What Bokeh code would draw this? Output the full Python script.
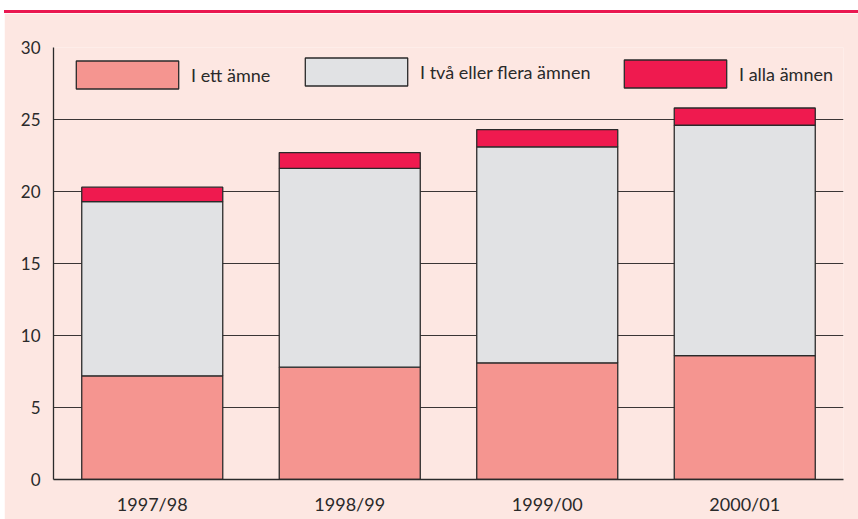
from bokeh.plotting import figure
from bokeh.models import (ColumnDataSource, Range1d, FactorRange, FixedTicker,
                          Legend, LegendItem, Div)
from bokeh.layouts import column
from bokeh.embed import file_html
from bokeh.resources import INLINE

# ---- data ----
years = ["1997/98", "1998/99", "1999/00", "2000/01"]
ett_amne = [7.2, 7.8, 8.1, 8.6]
tva_eller_flera = [12.1, 13.8, 15.0, 16.0]
alla_amnen = [1.0, 1.1, 1.2, 1.2]
series_names = ["I ett ämne", "I två eller flera ämnen", "I alla ämnen"]
y_ticks = [0, 5, 10, 15, 20, 25, 30]

BG = "#fde7e2"
COLORS = ["#f59590", "#e1e2e4", "#ef1a4f"]
DARK = "#2a2a2a"
FONT = "Lato"
LEFT_GAP = 4
W = 858 - LEFT_GAP
RULE_TOP, RULE_H = 10, 3
PH = 519 - RULE_TOP - RULE_H

source = ColumnDataSource(dict(year=years, ett=ett_amne, tva=tva_eller_flera, alla=alla_amnen))

p = figure(width=W, height=PH, x_range=FactorRange(*years), y_range=Range1d(0, 30),
           output_backend="svg", toolbar_location=None,
           min_border_left=53 - LEFT_GAP, min_border_right=15,
           min_border_top=34, min_border_bottom=40)
p.background_fill_color = BG
p.border_fill_color = BG
p.outline_line_color = None
p.margin = (0, 0, 0, LEFT_GAP)

renderers = p.vbar_stack(["ett", "tva", "alla"], x="year", width=0.714, source=source,
                         color=COLORS, line_color=DARK, line_width=1.3)

# axes
p.yaxis.ticker = FixedTicker(ticks=y_ticks)
p.yaxis.major_tick_line_color = None
p.yaxis.minor_tick_line_color = None
p.yaxis.axis_line_color = DARK
p.yaxis.axis_line_width = 1.3
p.yaxis.major_label_text_font = FONT
p.yaxis.major_label_text_font_size = "17px"
p.yaxis.major_label_text_color = DARK
p.yaxis.major_label_standoff = 7

p.xaxis.major_tick_line_color = None
p.xaxis.axis_line_color = DARK
p.xaxis.axis_line_width = 1.3
p.xaxis.major_label_text_font = FONT
p.xaxis.major_label_text_font_size = "18px"
p.xaxis.major_label_text_color = DARK
p.xaxis.major_label_standoff = 7

p.xgrid.grid_line_color = None
p.ygrid.ticker = FixedTicker(ticks=y_ticks)
p.ygrid.grid_line_color = "#3a3535"
p.ygrid.grid_line_width = 1.2

# legends: one per item, placed individually
leg_x = [10, 239, 558]
leg_y = [387, 390, 388]
for r, name, lx, ly in zip(renderers, series_names, leg_x, leg_y):
    lg = Legend(items=[LegendItem(label=name, renderers=[r])], location=(lx, ly),
                orientation="horizontal", glyph_width=128, glyph_height=35,
                label_standoff=0, padding=0, margin=0, spacing=0,
                border_line_color=None, background_fill_alpha=0,
                label_text_font=FONT, label_text_font_size="18px",
                label_text_color=DARK)
    p.add_layout(lg, "center")

# red rule above the chart panel
rule = Div(text="", width=W, height=RULE_H, margin=(RULE_TOP, 0, 0, LEFT_GAP),
           styles={"background-color": "#ea1850"})
layout = column(rule, p, spacing=0, margin=0)

open("out.html", "w").write(file_html(layout, INLINE))
